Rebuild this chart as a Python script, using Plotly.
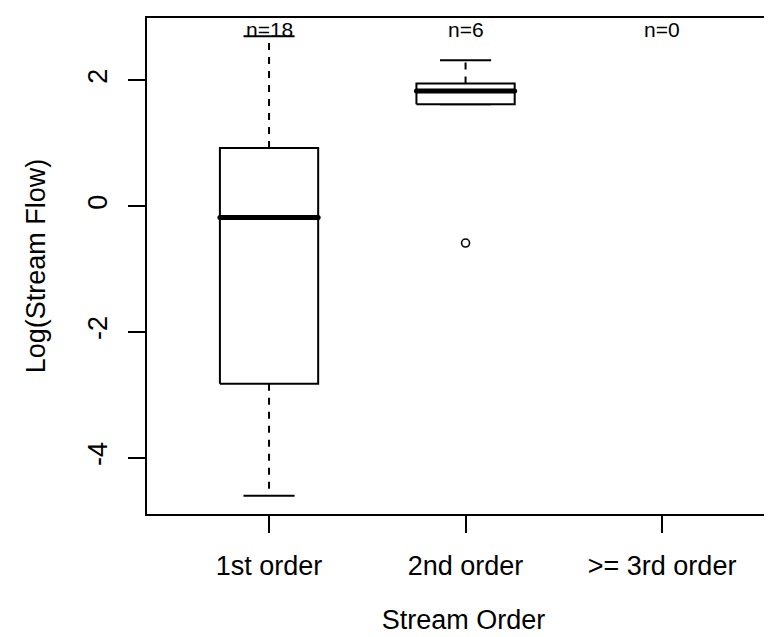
import plotly.graph_objects as go

# ---- data ----
categories = ["1st order", "2nd order", ">= 3rd order"]
positions = [1, 2, 3]
n_labels = ["n=18", "n=6", "n=0"]

box_positions = [1, 2]
lower_whisker = [-4.60, 1.62]
q1 = [-2.82, 1.62]
median = [-0.18, 1.83]
q3 = [0.925, 1.95]
upper_whisker = [2.70, 2.32]

outlier_x = [2]
outlier_y = [-0.585]

y_ticks = [-4, -2, 0, 2]
y_tick_text = ["-4", "-2", "0", "2"]

# ---- styling ----
FONT = "Liberation Sans, Arial, sans-serif"
FS = 27
HW = 0.25   # box half width
CH = 0.13   # cap half width
BLACK = "black"

fig = go.Figure()

for p, lw, a, m, b, uw in zip(box_positions, lower_whisker, q1, median, q3, upper_whisker):
    if uw > b:
        fig.add_trace(go.Scatter(x=[p, p], y=[b, uw], mode="lines",
                                 line=dict(color=BLACK, width=2, dash="7px,7px"),
                                 hoverinfo="skip", showlegend=False))
    if lw < a:
        fig.add_trace(go.Scatter(x=[p, p], y=[a, lw], mode="lines",
                                 line=dict(color=BLACK, width=2, dash="7px,7px"),
                                 hoverinfo="skip", showlegend=False))
    for v in (lw, uw):
        fig.add_trace(go.Scatter(x=[p - CH, p + CH], y=[v, v], mode="lines",
                                 line=dict(color=BLACK, width=2),
                                 hoverinfo="skip", showlegend=False))
    fig.add_trace(go.Scatter(x=[p - HW, p + HW, p + HW, p - HW, p - HW],
                             y=[a, a, b, b, a], mode="lines",
                             line=dict(color=BLACK, width=2),
                             fill="toself", fillcolor="white",
                             hoverinfo="skip", showlegend=False))
    # thick median with rounded ends
    fig.add_trace(go.Scatter(x=[p - HW, p + HW], y=[m, m], mode="lines+markers",
                             line=dict(color=BLACK, width=5),
                             marker=dict(symbol="circle", size=5, color=BLACK),
                             hoverinfo="skip", showlegend=False))

fig.add_trace(go.Scatter(x=outlier_x, y=outlier_y, mode="markers",
                         marker=dict(symbol="circle-open", size=8, color=BLACK,
                                     line=dict(width=1.6, color=BLACK)),
                         hoverinfo="skip", showlegend=False))

for p, t in zip(positions, n_labels):
    fig.add_annotation(x=p, y=2.80, xref="x", yref="y", text=t, showarrow=False,
                       font=dict(family=FONT, size=21, color=BLACK),
                       xanchor="center", yanchor="middle")

fig.update_layout(
    width=772, height=637,
    margin=dict(l=139, r=0, t=10, b=131),
    paper_bgcolor="white", plot_bgcolor="white",
    font=dict(family=FONT, size=FS, color=BLACK),
    xaxis=dict(range=[0.379, 3.60], tickmode="array", tickvals=positions,
               ticktext=categories, ticks="outside", ticklen=17, tickwidth=1.5,
               tickcolor=BLACK, showline=True, linecolor=BLACK, linewidth=2,
               mirror=True, showgrid=False, zeroline=False, automargin=False,
               ticklabelstandoff=10,
               tickfont=dict(family=FONT, size=FS, color=BLACK),
               title=dict(text="Stream Order", standoff=30,
                          font=dict(family=FONT, size=FS, color=BLACK))),
    yaxis=dict(range=[-4.89, 2.99], tickmode="array", tickvals=y_ticks,
               ticktext=y_tick_text, tickangle=-90, ticks="outside", ticklen=17,
               tickwidth=1.5, tickcolor=BLACK, showline=True, linecolor=BLACK,
               linewidth=2, mirror=False, showgrid=False, zeroline=False,
               automargin=False, ticklabelstandoff=10,
               tickfont=dict(family=FONT, size=FS, color=BLACK),
               title=dict(text="Log(Stream Flow)", standoff=30,
                          font=dict(family=FONT, size=FS, color=BLACK))),
)

fig.write_html("out.html")
